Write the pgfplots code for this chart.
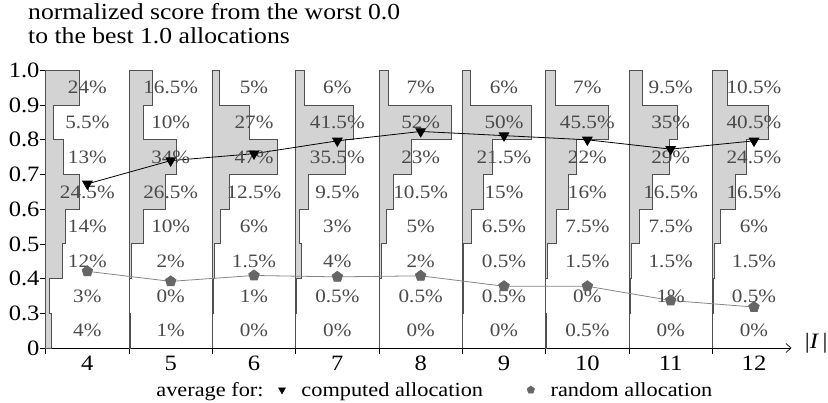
\documentclass[border=0pt]{standalone}
\usepackage{fontspec}
\setmainfont{Liberation Serif}[FakeStretch=1.12]
\usepackage{pgfplots}
\pgfplotsset{compat=1.18}
\usepackage{pgfplotstable}
\usetikzlibrary{arrows.meta}
\definecolor{barfill}{HTML}{D3D3D3}
\definecolor{barline}{HTML}{505050}
\definecolor{pcttext}{HTML}{4A4A4A}
\definecolor{randgray}{HTML}{858585}
\definecolor{randmark}{HTML}{666666}

% step outline of each histogram: y = bin edge (0 = 0, 1 = 0.3, 2 = 0.4, ..., 8 = 1.0), aN = share in % for |I| = N
\pgfplotstableread{
y a4   a5   a6   a7   a8   a9   a10  a11  a12
0 4    1    0    0    0    0    0.5  0    0
1 4    1    0    0    0    0    0.5  0    0
1 3    0    1    0.5  0.5  0.5  0    1    0.5
2 3    0    1    0.5  0.5  0.5  0    1    0.5
2 12   2    1.5  4    2    0.5  1.5  1.5  1.5
3 12   2    1.5  4    2    0.5  1.5  1.5  1.5
3 14   10   6    3    5    6.5  7.5  7.5  6
4 14   10   6    3    5    6.5  7.5  7.5  6
4 24.5 26.5 12.5 9.5  10.5 15   16   16.5 16.5
5 24.5 26.5 12.5 9.5  10.5 15   16   16.5 16.5
5 13   34   47   35.5 23   21.5 22   29   24.5
6 13   34   47   35.5 23   21.5 22   29   24.5
6 5.5  10   27   41.5 52   50   45.5 35   40.5
7 5.5  10   27   41.5 52   50   45.5 35   40.5
7 24   16.5 5    6    7    6    7    9.5  10.5
8 24   16.5 5    6    7    6    7    9.5  10.5
8 0    0    0    0    0    0    0    0    0
0 0    0    0    0    0    0    0    0    0
}\steps

% averages (normalized score)
\pgfplotstableread{
I  comp  rand
4  0.673 0.421
5  0.740 0.392
6  0.760 0.409
7  0.797 0.405
8  0.824 0.408
9  0.812 0.378
10 0.800 0.378
11 0.773 0.337
12 0.797 0.318
}\avg

\begin{document}
\begin{tikzpicture}
\begin{axis}[
  scale only axis, width=745.8bp, height=277.6bp,
  at={(0,0)}, anchor=south west,
  xmin=0, xmax=537, ymin=0, ymax=8,
  axis x line=bottom, axis y line=left,
  x axis line style={black, line width=0.7bp, -{Straight Barb[length=5bp,width=9bp]}},
  y axis line style={black, line width=0.7bp, -},
  tick align=outside, major tick length=6bp,
  tick style={black, line width=0.7bp},
  xtick={0,60,...,480}, xticklabels={},
  extra x ticks={30,90,150,210,270,330,390,450,510},
  extra x tick labels={4,5,6,7,8,9,10,11,12},
  extra x tick style={major tick length=0pt},
  ytick={0,1,2,3,4,5,6,7,8},
  yticklabels={0,0.3,0.4,0.5,0.6,0.7,0.8,0.9,1.0},
  ticklabel style={font=\fontsize{22}{24}\selectfont},
  yticklabel style={inner xsep=0bp},
  xticklabel style={inner ysep=0bp, yshift=-8bp},
  clip=false,
  legend columns=3,
  legend cell align=left,
  legend style={at={(0.1267,-0.151)}, anchor=west, draw=none, fill=none,
    inner sep=0pt, font=\fontsize{20}{24}\selectfont,
    /tikz/every odd column/.append style={column sep=14bp},
    /tikz/column 1/.style={column sep=0pt},
    /tikz/column 2/.style={column sep=13bp},
    /tikz/column 4/.style={column sep=42bp}},
]
\pgfplotsinvokeforeach{4,...,12}{
  \addplot[fill=barfill, draw=barline, line width=0.8bp, forget plot]
    table[x expr={\thisrow{a#1}+(#1-4)*60}, y=y]{\steps} -- cycle;
}
\pgfplotsinvokeforeach{4,...,12}{
  \addplot[draw=none, mark=none, forget plot, each nth point=2,
    restrict y to domain=0:8, point meta=explicit symbolic,
    nodes near coords={\pgfplotspointmeta\%},
    nodes near coords align=center,
    every node near coord/.append style={font=\fontsize{19}{22}\selectfont,
      text=pcttext, inner sep=0pt, anchor=center}]
    table[x expr={(#1-4)*60+30}, y expr={\thisrow{y}+0.5}, meta=a#1]{\steps};
}
\addplot[black, line width=0.8bp, mark=triangle*, mark size=5.5bp,
  mark options={rotate=180, fill=black, solid}, forget plot]
  table[x expr={(\thisrow{I}-4)*60+30}, y expr={(\thisrow{comp}-0.2)*10}]{\avg};
\addplot[randgray, line width=0.8bp, mark=pentagon*, mark size=5.5bp,
  mark options={fill=randmark, draw=randmark, solid}, forget plot]
  table[x expr={(\thisrow{I}-4)*60+30}, y expr={(\thisrow{rand}-0.2)*10}]{\avg};
\addlegendimage{empty legend}
\addlegendentry{average for:}
\addlegendimage{only marks, mark=triangle*, mark size=4bp, mark options={rotate=180, fill=black, draw=black}}
\addlegendentry{computed allocation}
\addlegendimage{only marks, mark=pentagon*, mark size=4bp, mark options={fill=randmark, draw=randmark}}
\addlegendentry{random allocation}
\end{axis}
\node[anchor=north west, align=left, inner sep=0pt, font=\fontsize{23}{24}\selectfont]
  at (-17.7bp,345bp) {normalized score from the worst 0.0\\to the best 1.0 allocations};
\node[anchor=west, inner sep=0pt, font=\fontsize{22}{24}\selectfont]
  at (759bp,4.5bp) {|\textit{I}\,|};
\pgfresetboundingbox
\path (-45.7bp,-55bp) rectangle (782.3bp,348bp);
\end{tikzpicture}
\end{document}
